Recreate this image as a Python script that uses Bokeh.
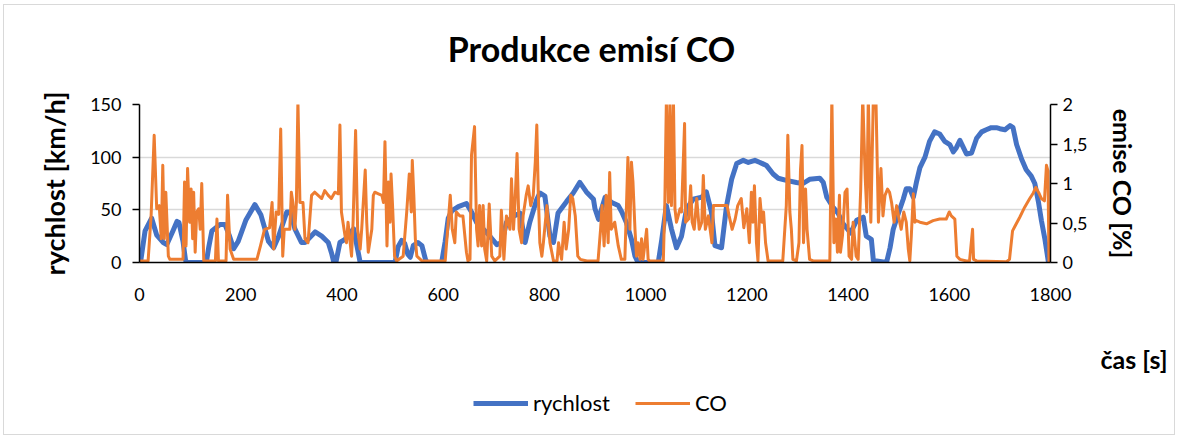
from bokeh.plotting import figure
from bokeh.models import Range1d, LinearAxis, FixedTicker, Legend, LegendItem, Label
from bokeh.layouts import column
from bokeh.embed import file_html
from bokeh.resources import INLINE

title_text = "Produkce emisí CO"
x_label = "čas [s]"
y_left_label = "rychlost [km/h]"
y_right_label = "emise CO [%]"
series_names = ["rychlost", "CO"]

x_ticks = [0, 200, 400, 600, 800, 1000, 1200, 1400, 1600, 1800]
left_ticks = [0, 50, 100, 150]
right_ticks = [0, 0.5, 1, 1.5, 2]
right_tick_labels = ["0", "0,5", "1", "1,5", "2"]

# speed (km/h) over time (s)
speed_t = [0, 2, 11, 24, 34, 47, 54, 66, 74, 78, 86, 91, 94, 132, 137, 143, 159, 169, 178, 186,
           195, 210, 228, 240, 255, 265, 275, 291, 298, 307, 320, 327, 347, 360, 373, 380, 384, 388,
           396, 406, 423, 430, 436, 505, 511, 518, 524, 530, 535, 541, 550, 558, 565, 568, 597, 604,
           610, 617, 630, 646, 656, 666, 679, 692, 706, 716, 725, 739, 752, 762, 771, 785, 791, 801,
           811, 818, 827, 844, 857, 870, 883, 897, 900, 907, 920, 933, 946, 953, 962, 972, 979, 985,
           1025, 1032, 1041, 1051, 1061, 1071, 1081, 1094, 1111, 1120, 1130, 1137, 1150, 1160, 1170,
           1180, 1193, 1203, 1216, 1226, 1239, 1252, 1262, 1278, 1298, 1311, 1324, 1344, 1351, 1358,
           1371, 1380, 1390, 1405, 1417, 1430, 1436, 1446, 1450, 1476, 1483, 1489, 1499, 1509, 1515,
           1522, 1529, 1535, 1542, 1552, 1561, 1571, 1581, 1591, 1601, 1608, 1614, 1621, 1627, 1634,
           1644, 1654, 1664, 1673, 1683, 1693, 1700, 1710, 1720, 1726, 1733, 1743, 1752, 1762, 1769,
           1776, 1782, 1789, 1796, 1800]
speed_v = [0, 0, 30, 42, 26, 19, 17, 30, 39, 38, 20, 2, 0, 0, 15, 30, 36, 36, 25, 13,
           20, 40, 55, 45, 20, 14, 25, 48, 48, 32, 19, 19, 29, 25, 19, 8, 0, 0,
           19, 22, 32, 15, 0, 0, 15, 21, 18, 8, 5, 16, 19, 16, 3, 0, 0, 20,
           42, 49, 53, 56, 48, 38, 32, 25, 17, 19, 38, 44, 47, 19, 38, 60, 66, 63,
           25, 19, 47, 58, 66, 76, 67, 60, 51, 41, 62, 57, 54, 48, 38, 22, 6, 0,
           0, 22, 54, 32, 14, 25, 51, 60, 62, 67, 48, 16, 14, 54, 79,
           94, 97, 95, 97, 95, 92, 84, 80, 78, 76, 75, 79, 80, 76, 62,
           52, 47, 37, 28, 40, 43, 25, 22, 2, 0, 14, 31, 46, 60, 70,
           70, 62, 76, 90, 100, 115, 124, 122, 115, 112, 105, 109, 116, 110, 103,
           104, 118, 124, 126, 128, 128, 127, 126, 130, 128, 112, 98, 88, 82, 75,
           58, 40, 22, 0, 0]

# CO emission (%) over time (s)
co_t = [0, 17, 23, 29, 34, 39, 43, 46, 49, 52, 57, 60, 86, 89, 92, 95, 99, 102, 105, 107,
        110, 113, 117, 120, 123, 127, 150, 153, 156, 171, 174, 179, 186, 232, 239, 247, 257, 262,
        265, 270, 275, 279, 283, 286, 297,
        300, 303, 307, 310, 313, 317, 323, 327, 333, 340, 346, 353, 360, 366, 373, 379, 386, 393,
        396, 399, 406, 409, 412, 419, 422, 427, 431, 436, 439, 446, 449, 452, 459, 462, 465, 472,
        479, 482, 485, 489, 492, 495, 497, 500, 504, 508, 521, 528, 533, 537, 539, 542, 545, 548,
        558, 604,
        610, 614, 618, 623, 626, 633, 639, 646, 649, 653, 656, 662, 666, 669, 672, 676, 679, 682,
        686, 691, 696, 702, 712, 715, 720, 725, 732, 735, 739, 742, 746, 750, 755, 758, 764, 768,
        773, 778, 782, 785, 788, 791, 795, 798, 805, 811, 818, 825, 828, 834, 839, 843, 848, 852,
        856, 861, 866, 871, 884, 906,
        911, 914, 918, 922, 926, 929, 932, 939, 946, 952, 959, 962, 965, 969, 972, 975, 979, 982,
        985, 989, 992, 995, 1002, 1005, 1008, 1035, 1038, 1041, 1045, 1048, 1051, 1055, 1058, 1061,
        1068, 1071, 1077, 1079, 1085, 1089, 1092, 1096, 1101, 1106, 1111, 1114, 1118, 1124, 1131,
        1134, 1151, 1161, 1165, 1171, 1177, 1182, 1189, 1194, 1200, 1205,
        1209, 1212, 1215, 1219, 1222, 1226, 1230, 1233, 1237, 1242, 1271, 1275, 1278, 1281, 1285,
        1288, 1291, 1298, 1303, 1306, 1309, 1312, 1316, 1319, 1324, 1331, 1364, 1368, 1372, 1376,
        1379, 1383, 1385, 1389, 1394, 1398, 1402, 1407, 1410, 1416, 1420, 1425, 1429, 1434, 1437,
        1440, 1445, 1450, 1455, 1460, 1465, 1469, 1473, 1478, 1482, 1486, 1491, 1496, 1502,
        1505, 1510, 1515, 1519, 1522, 1525, 1529, 1532, 1535, 1542, 1555, 1568, 1581, 1594, 1600,
        1604, 1611, 1615, 1621, 1634, 1640, 1646, 1648, 1654, 1713, 1719, 1725, 1729, 1739, 1749,
        1759, 1766, 1771, 1777, 1782, 1788, 1792, 1795, 1797, 1800]
co_v = [0.02, 0.02, 0.6, 1.61, 0.68, 0.72, 0.30, 1.23, 0.30, 0.89, 0.08, 0.04, 0.04, 1.02, 0.21, 1.19, 0.51, 0.93, 0.30, 0.89,
        0.13, 0.64, 0.68, 0.42, 1.0, 0.02, 0.02, 0.55, 0.02, 0.02, 0.85, 0.17, 0.04, 0.04, 0.21, 0.42, 0.44, 0.76,
        0.17, 0.64, 0.61, 1.69, 0.08, 0.42, 0.42,
        0.89, 0.76, 0.42, 0.76, 2.05, 0.76, 0.76, 0.30, 0.25, 0.85, 0.89, 0.85, 0.81, 0.91, 0.85, 0.81, 0.89, 0.87,
        1.74, 0.64, 0.34, 0.25, 0.51, 0.08, 0.51, 1.67, 0.42, 0.17, 0.42, 1.17, 0.51, 0.13, 0.42, 0.85, 0.89, 0.87,
        0.85, 0.76, 1.53, 0.21, 1.02, 0.51, 1.12, 0.72, 0.08, 0.02, 0.08, 0.64, 1.12, 0.64, 1.29, 0.85, 0.30, 0.08,
        0.02, 0.02,
        0.51, 0.85, 0.42, 0.25, 0.64, 0.59, 0.59, 0.13, 0.02, 0.04, 1.36, 1.72, 0.42, 0.21, 0.72, 0.21, 0.72, 0.17,
        0.02, 0.74, 0.08, 0.02, 0.08, 0.66, 0.04, 0.59, 0.42, 1.06, 0.42, 0.76, 1.38, 0.42, 0.25, 0.59, 0.85, 0.97,
        0.72, 0.85, 1.27, 1.74, 0.85, 0.25, 0.08, 0.25, 0.72, 0.25, 0.02, 0.02, 0.25, 0.04, 0.51, 0.17, 0.42, 0.85,
        0.81, 0.59, 0.08, 0.04, 0.02, 0.02,
        0.42, 0.72, 0.21, 0.85, 0.25, 1.14, 0.42, 0.51, 0.21, 0.04, 0.04, 0.68, 1.33, 0.42, 1.27, 1.02, 0.42, 0.08,
        0.25, 0.04, 0.30, 0.04, 0.42, 0.04, 0.02, 0.02, 0.76, 2.05, 0.76, 2.05, 0.72, 2.05, 0.68, 0.51,
        0.68, 0.64, 1.76, 0.51, 0.55, 0.97, 0.51, 0.42, 0.81, 0.42, 0.51, 1.10, 0.42, 0.59, 0.25,
        0.72, 0.72, 0.72, 0.59, 0.42, 0.55, 0.72, 0.81, 0.44, 0.68, 0.25,
        0.89, 0.51, 0.97, 0.25, 0.02, 0.81, 0.51, 0.64, 0.25, 0.02, 0.02, 0.42, 0.72, 1.61, 0.64,
        0.42, 0.04, 0.02, 0.25, 1.17, 1.48, 0.25, 0.93, 0.42, 0.04, 0.02, 0.02, 2.1, 0.25, 0.55,
        0.13, 0.85, 0.13, 0.34, 0.89, 0.93, 0.08, 0.04, 0.51, 0.08, 0.04, 0.93, 2.1, 1.06, 0.64,
        2.1, 0.51, 2.1, 2.1, 0.51, 1.19, 0.59, 0.85, 0.93, 0.89, 0.76, 0.51, 0.72, 0.51,
        0.42, 0.64, 0.51, 0.17, 0.02, 0.34, 0.87, 0.51, 0.53, 0.51, 0.49, 0.53, 0.55, 0.55, 0.64,
        0.59, 0.55, 0.08, 0.04, 0.02, 0.02, 0.42, 0.04, 0.02, 0.01, 0.04, 0.40, 0.45, 0.57, 0.70,
        0.81, 0.88, 0.95, 0.88, 0.81, 0.78, 1.23, 1.16, 0.0, 0.0]

BLUE = "#4472C4"
ORANGE = "#ED7D31"
GRID = "#D9D9D9"
FONT = "Lato"
FW = 911          # frame width shared by all strips (column aligns frames)
BL, BR = 135, 124  # left / right borders


def strip(height, right_axis=False):
    f = figure(width=BL + FW + BR, height=height, x_range=Range1d(0, FW), y_range=Range1d(0, height),
               x_axis_location=None, y_axis_location=("right" if right_axis else None),
               min_border=0, min_border_left=BL, min_border_right=BR,
               output_backend="svg", toolbar_location=None)
    f.grid.visible = False
    f.outline_line_color = None
    f.background_fill_color = "white"
    f.border_fill_color = "white"
    return f


# ---- title strip ----
p0 = strip(87)
p0.add_layout(Label(x=452, y=44, text=title_text, text_align="center", text_baseline="middle",
                    text_font=FONT, text_font_size="34px", text_font_style="bold",
                    text_color="black"))

# ---- main chart ----
p = figure(frame_width=FW, frame_height=158,
           min_border_left=BL, min_border_right=BR, min_border_top=12, min_border_bottom=66,
           x_range=Range1d(0, 1800), y_range=Range1d(0, 150),
           output_backend="svg", toolbar_location=None)
p.outline_line_color = None
p.background_fill_color = "white"
p.border_fill_color = "white"
p.extra_y_ranges = {"co": Range1d(0, 2)}

xa = p.xaxis[0]
xa.ticker = FixedTicker(ticks=x_ticks)
xa.major_tick_out = 0
xa.major_tick_in = 0
xa.minor_tick_out = 0
xa.minor_tick_in = 0
xa.major_label_standoff = 25
xa.axis_line_color = "black"
xa.axis_line_width = 1.5
xa.major_label_text_font = FONT
xa.major_label_text_font_size = "18px"
xa.major_label_text_color = "black"

ya = p.yaxis[0]
ya.ticker = FixedTicker(ticks=left_ticks)
ya.axis_label = y_left_label
ya.axis_label_text_font = FONT
ya.axis_label_text_font_size = "27px"
ya.axis_label_text_font_style = "bold"
ya.axis_label_text_color = "black"
ya.axis_label_standoff = 16
ya.major_tick_out = 7
ya.major_tick_in = 0
ya.minor_tick_out = 0
ya.minor_tick_in = 0
ya.major_label_standoff = 11
ya.axis_line_color = "black"
ya.axis_line_width = 1.5
ya.major_tick_line_color = "black"
ya.major_tick_line_width = 1.5
ya.major_label_text_font = FONT
ya.major_label_text_font_size = "18px"
ya.major_label_text_color = "black"

ra = LinearAxis(y_range_name="co", ticker=FixedTicker(ticks=right_ticks))
ra.major_label_overrides = {t: s for t, s in zip(right_ticks, right_tick_labels)}
ra.axis_label = y_right_label
ra.axis_label_text_font = FONT
ra.axis_label_text_font_size = "25px"
ra.axis_label_text_font_style = "bold"
ra.axis_label_text_color = "black"
ra.axis_label_standoff = 18
ra.major_tick_out = 7
ra.major_tick_in = 0
ra.minor_tick_out = 0
ra.minor_tick_in = 0
ra.major_label_standoff = 5
ra.axis_line_color = "black"
ra.axis_line_width = 1.5
ra.major_tick_line_color = "black"
ra.major_tick_line_width = 1.5
ra.major_label_text_font = FONT
ra.major_label_text_font_size = "18px"
ra.major_label_text_color = "black"
p.add_layout(ra, "right")

p.xgrid.grid_line_color = None
p.ygrid.grid_line_color = GRID
p.ygrid.grid_line_width = 1.5

p.line(speed_t, speed_v, line_color=BLUE, line_width=5, line_join="round")
p.line(co_t, co_v, line_color=ORANGE, line_width=3, line_join="round", y_range_name="co")

# ---- x-axis title strip (title drawn as a horizontal label of an empty right axis) ----
p2 = strip(60, right_axis=True)
ax2 = p2.yaxis[0]
ax2.ticker = FixedTicker(ticks=[])
ax2.major_tick_out = 0
ax2.major_tick_in = 0
ax2.minor_tick_out = 0
ax2.minor_tick_in = 0
ax2.major_label_standoff = 0
ax2.axis_line_color = None
ax2.axis_label = x_label
ax2.axis_label_orientation = "horizontal"
ax2.axis_label_standoff = 50
ax2.axis_label_text_font = FONT
ax2.axis_label_text_font_size = "25px"
ax2.axis_label_text_font_style = "bold"
ax2.axis_label_text_color = "black"

# ---- legend strip ----
p3 = strip(46)
nan = float("nan")
k_speed = p3.line([nan], [nan], line_color=BLUE, line_width=5)
k_co = p3.line([nan], [nan], line_color=ORANGE, line_width=3)
legend = Legend(items=[LegendItem(label=series_names[0], renderers=[k_speed]),
                       LegendItem(label=series_names[1], renderers=[k_co])],
                orientation="horizontal", location=(334, 18))
legend.glyph_width = 55
legend.glyph_height = 20
legend.label_standoff = 5
legend.spacing = 25
legend.padding = 0
legend.margin = 0
legend.border_line_color = None
legend.background_fill_alpha = 0
legend.label_text_font = FONT
legend.label_text_font_size = "22px"
legend.label_text_color = "black"
p3.add_layout(legend, "center")

layout = column(p0, p, p2, p3, spacing=0)
layout.styles = {"border": "1px solid #D9D9D9", "margin-left": "3px", "margin-top": "4px",
                 "width": "fit-content"}

open("out.html", "w").write(file_html(layout, INLINE))
